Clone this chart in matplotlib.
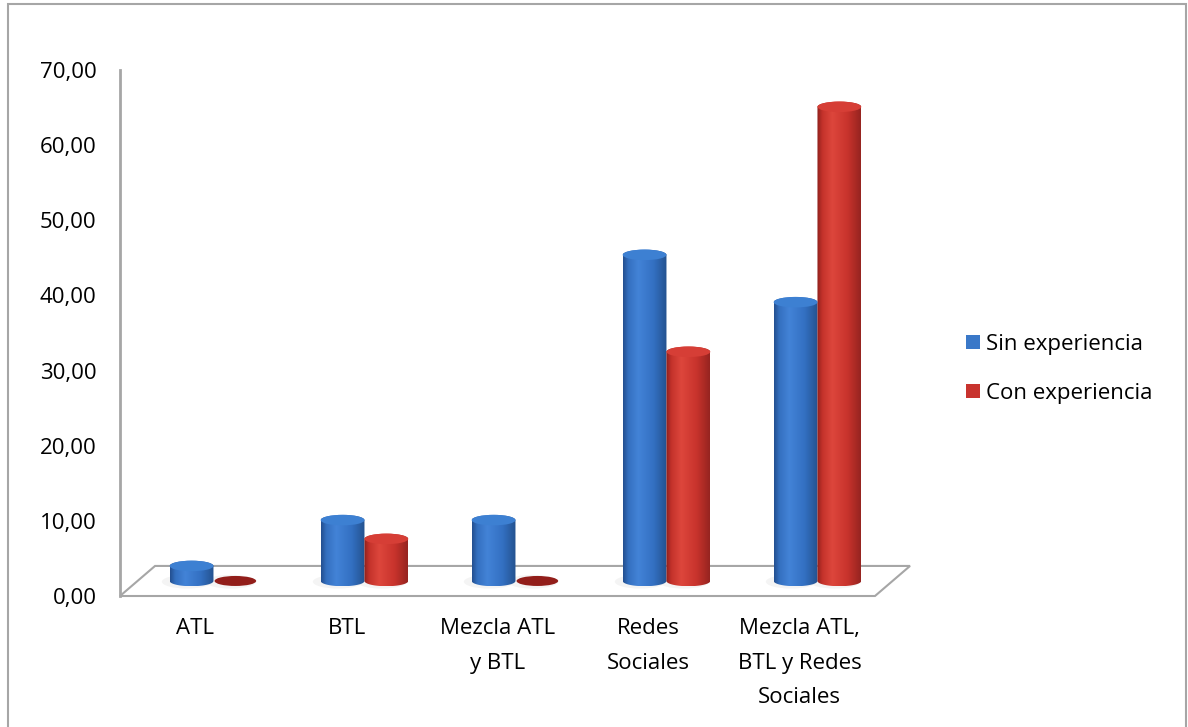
import numpy as np
import matplotlib
matplotlib.use("Agg")
import matplotlib.pyplot as plt
from matplotlib.patches import Ellipse, Patch, Polygon, Rectangle
from matplotlib.colors import LinearSegmentedColormap

plt.rcParams['font.family'] = ['Open Sans', 'DejaVu Sans']

# datos
categorias = ['ATL', 'BTL', 'Mezcla ATL\ny BTL', 'Redes\nSociales',
              'Mezcla ATL,\nBTL y Redes\nSociales']
series = ['Sin experiencia', 'Con experiencia']
sin_experiencia = [2.0, 8.1, 8.1, 43.4, 37.1]
con_experiencia = [0.0, 5.6, 0.0, 30.5, 63.1]
y_ticks = [0, 10, 20, 30, 40, 50, 60, 70]

# colores tipo Excel 3D
cmap_azul = LinearSegmentedColormap.from_list(
    'azul', [(0, '#234F8F'), (0.12, '#3470C0'), (0.35, '#4383D7'),
             (0.7, '#3370C2'), (1, '#24528F')])
cmap_rojo = LinearSegmentedColormap.from_list(
    'rojo', [(0, '#8E201B'), (0.12, '#C4322B'), (0.35, '#DD463C'),
             (0.7, '#C8332C'), (1, '#962420')])
tapa_azul = '#3D80D2'
tapa_rojo = '#D63E36'

fig = plt.figure(figsize=(11.88, 7.27), dpi=100)
ax = fig.add_axes([120 / 1188, 131 / 727, 790 / 1188, 526 / 727])

prof_y = 4.0      # profundidad del piso en unidades del eje y
prof_x = 0.232    # desplazamiento horizontal del piso
base = prof_y / 2
ancho = 0.29
desp = 0.119
b = 0.7           # semieje menor de las elipses

# piso
piso = Polygon([(-0.5, 0), (len(categorias) - 0.5, 0),
                (len(categorias) - 0.5 + prof_x, prof_y), (-0.5 + prof_x, prof_y)],
               closed=True, fc='white', ec='#a6a6a6', lw=1.5, zorder=1, clip_on=False)
ax.add_patch(piso)


def cilindro(xc, v, cmap, tapa):
    a = ancho / 2
    # sombra suave
    ax.add_patch(Ellipse((xc - 0.03, base - 0.1), 2 * a * 1.15, 2 * b * 1.3,
                         fc='#d4d4d4', ec='none', alpha=0.25, zorder=2))
    if v <= 0:
        ax.add_patch(Ellipse((xc, base), 2 * a * 0.95, 2 * b * 0.95,
                             fc='#921E1A', ec='none', zorder=3))
        return
    top = base + v
    t1 = np.linspace(np.pi, 2 * np.pi, 40)
    t2 = np.linspace(0, np.pi, 40)
    xs = np.concatenate([[xc - a], xc + a * np.cos(t1), [xc + a], xc + a * np.cos(t2)])
    ys = np.concatenate([[top], base + b * np.sin(t1), [top], top + b * np.sin(t2)])
    silueta = Polygon(np.column_stack([xs, ys]), closed=True, fc='none', ec='none')
    ax.add_patch(silueta)
    grad = np.linspace(0, 1, 200).reshape(1, -1)
    im = ax.imshow(grad, extent=[xc - a, xc + a, base - b, top + b], cmap=cmap,
                   aspect='auto', interpolation='bicubic', zorder=3)
    im.set_clip_path(silueta)
    ax.add_patch(Ellipse((xc, top), 2 * a, 2 * b, fc=tapa, ec='none', zorder=4))


for i in range(len(categorias)):
    cilindro(i + desp - ancho / 2, sin_experiencia[i], cmap_azul, tapa_azul)
    cilindro(i + desp + ancho / 2, con_experiencia[i], cmap_rojo, tapa_rojo)

ax.set_xlim(-0.5, -0.5 + 790 / 151)
ax.set_ylim(0, 70)

ax.set_yticks(y_ticks)
ax.set_yticklabels([f"{v:.2f}".replace('.', ',') for v in y_ticks])
ax.set_xticks(range(len(categorias)))
ax.set_xticklabels(categorias, linespacing=1.85)
ax.tick_params(axis='y', length=0, pad=17, labelsize=16)
ax.tick_params(axis='x', length=0, pad=16, labelsize=16)

for s in ['top', 'right', 'bottom']:
    ax.spines[s].set_visible(False)
ax.spines['left'].set_color('#a6a6a6')
ax.spines['left'].set_linewidth(2)

handles = [Patch(fc='#3A78C8', ec='none'), Patch(fc='#C8332E', ec='none')]
fig.legend(handles, series, loc='center left', bbox_to_anchor=(966 / 1188, 1 - 369 / 727),
           frameon=False, fontsize=16, handlelength=0.62, handleheight=0.62,
           handletextpad=0.3, labelspacing=1.25, borderpad=0, borderaxespad=0)

# borde del grafico
fig.add_artist(Rectangle((8 / 1188, -0.01), (1186 - 8) / 1188, 1 - 4 / 727 + 0.01,
                         transform=fig.transFigure, fill=False, ec='#a6a6a6', lw=1.5))

fig.savefig('out.png', dpi=100)
